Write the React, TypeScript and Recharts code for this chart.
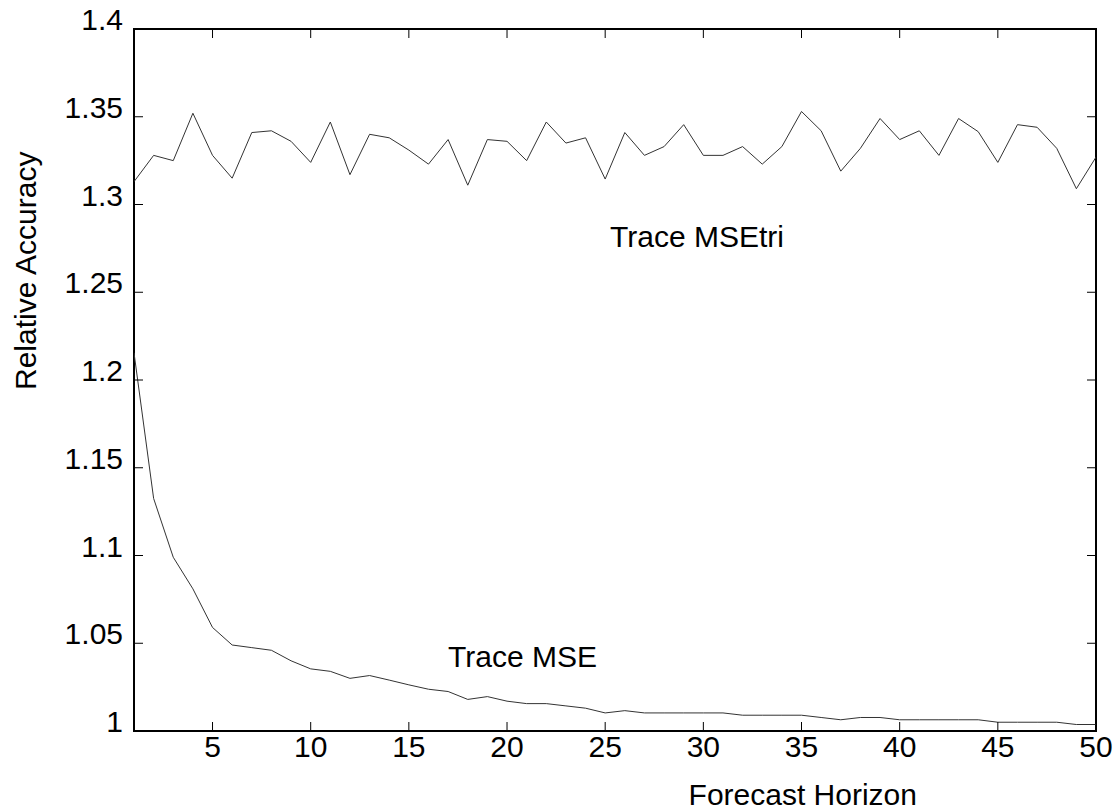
import { Line, LineChart, ReferenceArea, XAxis, YAxis } from "recharts";

const horizon = [
  1, 2, 3, 4, 5, 6, 7, 8, 9, 10, 11, 12, 13, 14, 15, 16, 17, 18, 19, 20, 21, 22, 23, 24, 25,
  26, 27, 28, 29, 30, 31, 32, 33, 34, 35, 36, 37, 38, 39, 40, 41, 42, 43, 44, 45, 46, 47, 48, 49, 50,
];

const traceMseTri = [
  1.313, 1.328, 1.325, 1.352, 1.328, 1.315, 1.341, 1.342, 1.336, 1.324,
  1.347, 1.317, 1.34, 1.338, 1.331, 1.323, 1.337, 1.311, 1.337, 1.336,
  1.325, 1.347, 1.335, 1.338, 1.3145, 1.341, 1.328, 1.333, 1.3455, 1.328,
  1.328, 1.333, 1.323, 1.333, 1.353, 1.342, 1.319, 1.332, 1.349, 1.337,
  1.342, 1.328, 1.349, 1.3415, 1.324, 1.3455, 1.344, 1.332, 1.309, 1.327,
];

const traceMse = [
  1.2155, 1.1325, 1.099, 1.081, 1.059, 1.049, 1.0475, 1.046, 1.04, 1.0354,
  1.034, 1.03, 1.0316, 1.029, 1.0263, 1.0238, 1.0225, 1.018, 1.0196, 1.017,
  1.0156, 1.0156, 1.0143, 1.013, 1.0103, 1.0116, 1.0103, 1.0103, 1.0103, 1.0103,
  1.0103, 1.009, 1.009, 1.009, 1.009, 1.0077, 1.0064, 1.0077, 1.0077, 1.0064,
  1.0064, 1.0064, 1.0064, 1.0064, 1.005, 1.005, 1.005, 1.005, 1.0037, 1.0037,
];

const xTicks = [5, 10, 15, 20, 25, 30, 35, 40, 45, 50];
const yTicks = [1, 1.05, 1.1, 1.15, 1.2, 1.25, 1.3, 1.35, 1.4];
const yTickLabels = ["1", "1.05", "1.1", "1.15", "1.2", "1.25", "1.3", "1.35", "1.4"];

const data = horizon.map((h, i) => ({ h, tri: traceMseTri[i], mse: traceMse[i] }));

// plot box edges (px) — used for the inward tick marks on all four sides
const W = 1119;
const H = 811;
const LEFT = 134;
const RIGHT = 1096;
const TOP = 29;
const BOTTOM = 731;
const TICK = 9;
const font = "'Liberation Sans', Arial, sans-serif";

function YTick(props: any) {
  const { y, payload } = props;
  const idx = yTicks.indexOf(payload.value);
  return (
    <g>
      <line x1={LEFT} x2={LEFT + TICK} y1={y} y2={y} stroke="#000" strokeWidth={1} />
      <line x1={RIGHT - TICK} x2={RIGHT} y1={y} y2={y} stroke="#000" strokeWidth={1} />
      <text x={LEFT - 11} y={y + 1} textAnchor="end" fontSize={30} fontFamily={font} fill="#000">
        {idx >= 0 ? yTickLabels[idx] : payload.value}
      </text>
    </g>
  );
}

function XTick(props: any) {
  const { x, payload } = props;
  return (
    <g>
      <line x1={x} x2={x} y1={BOTTOM - TICK} y2={BOTTOM} stroke="#000" strokeWidth={1} />
      <line x1={x} x2={x} y1={TOP} y2={TOP + TICK} stroke="#000" strokeWidth={1} />
      <text x={x} y={BOTTOM + 26} textAnchor="middle" fontSize={30} fontFamily={font} fill="#000">
        {payload.value}
      </text>
    </g>
  );
}

export default function App() {
  return (
    <div style={{ position: "absolute", left: 0, top: 0, width: W, height: H, background: "#fff" }}>
      <LineChart
        width={W}
        height={H}
        data={data}
        margin={{ top: TOP, right: W - RIGHT, left: 0, bottom: 0 }}
      >
        <XAxis
          dataKey="h"
          type="number"
          domain={[1, 50]}
          ticks={xTicks}
          height={H - BOTTOM}
          axisLine={false}
          tickLine={false}
          tickSize={0}
          tick={<XTick />}
          allowDataOverflow
        />
        <YAxis
          type="number"
          domain={[1, 1.4]}
          ticks={yTicks}
          width={LEFT}
          axisLine={false}
          tickLine={false}
          tickSize={0}
          tick={<YTick />}
          allowDataOverflow
        />
        <ReferenceArea
          x1={1}
          x2={50}
          y1={1}
          y2={1.4}
          fill="none"
          fillOpacity={0}
          stroke="#000"
          strokeWidth={2}
          ifOverflow="visible"
        />
        <Line
          type="linear"
          dataKey="tri"
          stroke="#333"
          strokeWidth={1}
          dot={false}
          isAnimationActive={false}
        />
        <Line
          type="linear"
          dataKey="mse"
          stroke="#333"
          strokeWidth={1}
          dot={false}
          isAnimationActive={false}
        />
      </LineChart>
      <svg
        width={W}
        height={H}
        style={{ position: "absolute", left: 0, top: 0, pointerEvents: "none" }}
      >
        <g fontFamily={font} fontSize={30} fill="#000">
          <text x={610} y={247}>Trace MSEtri</text>
          <text x={448} y={667}>Trace MSE</text>
          <text x={917} y={805} textAnchor="end">Forecast Horizon</text>
          <text x={36} y={390} transform="rotate(-90, 36, 390)">Relative Accuracy</text>
        </g>
      </svg>
    </div>
  );
}
